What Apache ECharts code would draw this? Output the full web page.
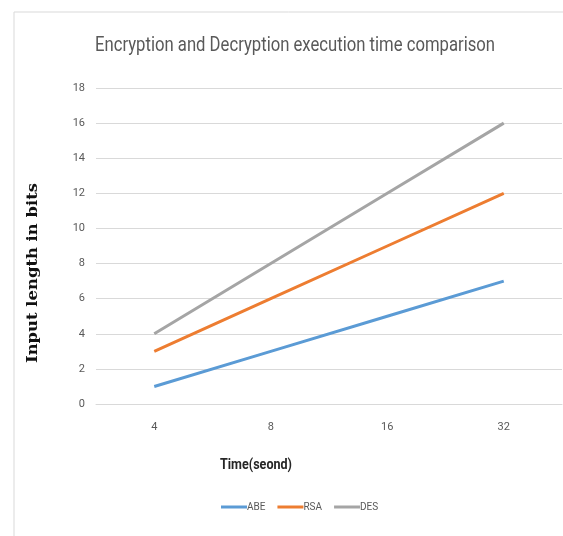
<!DOCTYPE html>
<html><head><meta charset="utf-8">
<script src="https://cdn.jsdelivr.net/npm/echarts@6/dist/echarts.min.js"></script>
<style>html,body{margin:0;padding:0;background:#fff}#c{width:563px;height:536px}</style>
</head><body><div id="c"></div>
<script>
const categories = ['4', '8', '16', '32'];
const abe = [1, 3, 5, 7];
const rsa = [3, 6, 9, 12];
const des = [4, 8, 12, 16];
const yTicks = { min: 0, max: 18, interval: 2 };
const titleText = 'Encryption and Decryption execution time comparison';
const xName = 'Time(seond)';
const yName = 'Input length in bits';

const sans = 'Roboto, sans-serif';
const serif = '"DejaVu Serif", "Liberation Serif", serif';

// measure to emulate the narrow (condensed) face of the reference
const ctx = document.createElement('canvas').getContext('2d');
function fitScale(text, font, target) {
  ctx.font = font;
  return target / ctx.measureText(text).width;
}
const titleScale = fitScale(titleText, '20px Roboto', 400);
const xNameScale = fitScale(xName, 'bold 14px Roboto', 72);
const yNameScale = fitScale(yName, 'bold 15px "DejaVu Serif"', 180);

const chart = echarts.init(document.getElementById('c'));
chart.setOption({
  animation: false,
  backgroundColor: '#fff',
  graphic: [
    { type: 'line', shape: { x1: 14, y1: 12, x2: 563, y2: 12 }, style: { stroke: '#d9d9d9', lineWidth: 1 } },
    { type: 'line', shape: { x1: 14, y1: 12, x2: 14, y2: 536 }, style: { stroke: '#d9d9d9', lineWidth: 1 } },
    { type: 'text', x: 295, y: 46, scaleX: titleScale,
      style: { text: titleText, font: '20px Roboto', fill: '#595959', textAlign: 'center', textVerticalAlign: 'middle' } },
    { type: 'text', x: 256, y: 465, scaleX: xNameScale,
      style: { text: xName, font: 'bold 14px Roboto', fill: '#262626', textAlign: 'center', textVerticalAlign: 'middle' } },
    { type: 'text', x: 33, y: 273, rotation: Math.PI / 2, scaleX: yNameScale,
      style: { text: yName, font: 'bold 15px "DejaVu Serif"', fill: '#111', textAlign: 'center', textVerticalAlign: 'middle' } }
  ],
  grid: { left: 96, right: 1, top: 88, bottom: 132, containLabel: false },
  legend: {
    top: 497, left: 216,
    itemWidth: 26, itemHeight: 3, itemGap: 12,
    icon: 'rect',
    textStyle: { fontFamily: sans, fontSize: 10, color: '#595959', padding: [0, 0, 0, -5] },
    data: ['ABE', 'RSA', 'DES']
  },
  xAxis: {
    type: 'category', data: categories, boundaryGap: true,
    axisLine: { lineStyle: { color: '#d9d9d9' } },
    axisTick: { show: false },
    axisLabel: { fontFamily: sans, fontSize: 11, color: '#595959', margin: 18 }
  },
  yAxis: {
    type: 'value', min: yTicks.min, max: yTicks.max, interval: yTicks.interval,
    axisLine: { show: false }, axisTick: { show: false },
    axisLabel: { fontFamily: sans, fontSize: 11, color: '#595959', margin: 11 },
    splitLine: { lineStyle: { color: '#d9d9d9' } }
  },
  series: [
    { name: 'ABE', type: 'line', data: abe, symbol: 'none', lineStyle: { width: 3, color: '#5b9bd5' }, itemStyle: { color: '#5b9bd5' } },
    { name: 'RSA', type: 'line', data: rsa, symbol: 'none', lineStyle: { width: 3, color: '#ed7d31' }, itemStyle: { color: '#ed7d31' } },
    { name: 'DES', type: 'line', data: des, symbol: 'none', lineStyle: { width: 3, color: '#a5a5a5' }, itemStyle: { color: '#a5a5a5' } }
  ]
});
</script></body></html>
